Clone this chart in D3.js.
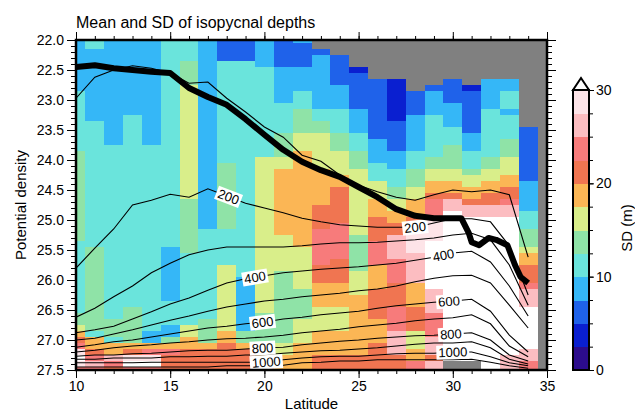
<!DOCTYPE html>
<html>
<head>
<meta charset="utf-8">
<script src="https://cdn.jsdelivr.net/npm/d3@7/dist/d3.min.js"></script>
<style>
  body { margin: 0; background: #fff; }
  svg text { font-family: "Liberation Sans", Arial, Helvetica, sans-serif; fill: #000; }
</style>
</head>
<body>
<svg id="chart" width="635" height="412"></svg>
<script>
// ---- data -------------------------------------------------------------
// Latitude bins (cell centres, degrees N)
const latitudes = [10,11,12,13,14,15,16,17,18,19,20,21,22,23,24,25,26,27,28,29,30,31,32,33,34,35];
// Potential density bins (cell centres)
const densities = [22.0,22.1,22.2,22.3,22.4,22.5,22.6,22.7,22.8,22.9,
                   23.0,23.1,23.2,23.3,23.4,23.5,23.6,23.7,23.8,23.9,
                   24.0,24.1,24.2,24.3,24.4,24.5,24.6,24.7,24.8,24.9,
                   25.0,25.1,25.2,25.3,25.4,25.5,25.6,25.7,25.8,25.9,
                   26.0,26.1,26.2,26.3,26.4,26.5,26.6,26.7,26.8,26.9,
                   27.0,27.1,27.2,27.3,27.4,27.5];
// SD (m) of each class code used in the grid below ('.' = no data)
const sdCodeValues = {"0":1.25,"1":3.75,"2":6.25,"3":8.75,"4":11.25,"5":13.75,"6":16.25,
                      "7":18.75,"8":21.25,"9":23.75,"a":26.25,"b":28.75,"c":31.25,".":null};
// SD of isopycnal depth, one string per latitude, density increasing left to right
const sdByLatitude = [
  "3333333334 4444444445 5555555555 5555444444 4444445567 89bcb9", // 10
  "4433333333 3333444444 4444444444 4444455555 5555555554 7789a9", // 11
  "3333333333 3333333344 4444444444 4444444444 4444444555 477a98", // 12
  "3333333333 3334444444 4444444444 4444444444 4444455555 578bc9", // 13
  "3333333333 3333333344 4444444444 4444444444 4444444443 379bc9", // 14
  "4444444444 4444444444 4444444444 4444433333 3333444433 579888", // 15
  "4444555566 6666666666 6666666555 5555554444 4444444466 778888", // 16
  "3333333333 3333333333 3333333333 3344444444 4444444555 578888", // 17
  "2222444444 4444444444 4555555555 5544444466 6666666667 788888", // 18
  "2222444444 4444444444 4444444444 4444444444 3333333335 578888", // 19
  "3333344444 4444444444 6666666666 6666666666 6666665555 567788", // 20
  "2222233333 3444445555 6677777777 7776666665 5555555555 566777", // 21
  "3222233334 4455556667 7777777777 7777766666 6655555666 677777", // 22
  "..23333333 3344556666 6677777788 8899999988 8777766667 777888", // 23
  "...2222233 3344445556 6667788888 8999999888 8777766667 777888", // 24
  ".....12222 2233334445 5566666666 6665555556 6667777777 777888", // 25
  ".......222 2222222333 3444666777 8888999977 7788888777 788888", // 26
  ".......111 1111222223 3344455667 788aaaa999 988889999a aaa888", // 27
  ".........2 2223333334 4455566777 88bbbbaaaa a777788886 667799", // 28
  "........23 3334444444 5566778999 bbbbcccccc ccaaaa9999 aaa8aa", // 29
  ".......222 2333344455 5566778aac cccccccccc cccccccccc cccc..", // 30
  "........12 2222223334 44566778aa cccccccccc cccccccccc cccc..", // 31
  ".......333 3344444444 55667788aa cccccccccc cccccccccc cccccc", // 32
  ".......334 4434444555 66677889aa cccccccccc cccccccccc cccaaa", // 33
  ".......... .....22222 2222333334 4455567788 89aaaccccc ccaa99", // 34
  ".......... .......... .......... .......... .......... ......"  // 35
];

// Colour classes of the SD scale
const sdBreaks = [2.5,5,7.5,10,12.5,15,17.5,20,22.5,25,27.5,30];
const sdColors = ["#2c0c8c","#0a1fd0","#1f62ea","#35b7f7","#6ae4dc","#8fe3a7","#d9ee8a",
                  "#fbb655","#f07551","#f77b7b","#fcbdc1","#fde4e8","#ffffff"];
const noDataColor = "#808080";
const sdAxisTicks = [0,10,20,30];
const sdMinorTicks = [0,2.5,5,7.5,10,12.5,15,17.5,20,22.5,25,27.5,30];

// Mean depth contours: density of each depth surface along latitude
const contourLats = [10,11,12,13,14,15,16,17,18,19,20,21,22,23,24,25,26,27,28,29,30,31,32,33,34];
const depth100  = [22.97,22.62,22.50,22.43,22.47,22.55,22.72,22.70,22.97,23.20,23.45,23.62,23.92,24.02,24.25,24.42,24.53,24.62,24.67,24.58,24.50,24.53,24.50,24.58,25.62];
const depth200  = [25.80,25.47,25.15,24.75,24.67,24.57,24.62,24.48,24.60,24.72,24.80,24.88,24.97,25.03,25.08,25.10,25.12,25.12,25.12,25.05,24.98,24.98,25.03,25.43,26.25];
const depth300  = [26.62,26.47,26.28,26.10,25.88,25.72,25.58,25.50,25.45,25.45,25.45,25.45,25.43,25.40,25.38,25.38,25.37,25.35,25.33,25.30,25.25,25.22,25.33,25.75,26.42];
const depth400  = [26.88,26.83,26.77,26.65,26.53,26.40,26.30,26.17,26.05,25.98,25.93,25.88,25.85,25.82,25.80,25.78,25.75,25.72,25.67,25.62,25.55,25.52,25.70,26.10,26.60];
const depth500  = [27.00,26.97,26.90,26.83,26.75,26.67,26.60,26.52,26.45,26.40,26.35,26.32,26.28,26.25,26.22,26.18,26.15,26.10,26.03,25.97,25.93,25.92,26.05,26.42,26.80];
const depth600  = [27.12,27.08,27.03,27.00,26.95,26.90,26.85,26.80,26.77,26.73,26.70,26.65,26.62,26.58,26.55,26.52,26.47,26.43,26.40,26.37,26.35,26.32,26.52,26.92,27.20];
const depth700  = [27.20,27.17,27.13,27.10,27.08,27.05,27.03,27.00,26.98,26.97,26.95,26.92,26.88,26.85,26.82,26.78,26.75,26.72,26.68,26.65,26.63,26.58,26.73,27.10,27.28];
const depth800  = [27.27,27.25,27.25,27.23,27.22,27.20,27.18,27.17,27.17,27.15,27.13,27.12,27.08,27.05,27.02,27.00,26.97,26.95,26.93,26.92,26.90,26.88,27.00,27.25,27.35];
const depth900  = [27.32,27.32,27.30,27.30,27.30,27.28,27.28,27.27,27.27,27.25,27.25,27.22,27.20,27.18,27.17,27.15,27.13,27.10,27.07,27.05,27.05,27.03,27.13,27.32,27.40];
const depth1000 = [27.38,27.38,27.38,27.38,27.37,27.37,27.37,27.37,27.37,27.37,27.37,27.33,27.30,27.28,27.27,27.27,27.25,27.23,27.22,27.22,27.20,27.20,27.28,27.38,27.43];
const depth1100 = [27.45,27.45,27.45,27.45,27.45,27.45,27.45,27.45,27.43,27.43,27.43,27.42,27.38,27.37,27.35,27.35,27.33,27.33,27.33,27.33,27.33,27.32,27.37,27.43,27.47];
const depthLevels = [100,200,300,400,500,600,700,800,900,1000,1100];
const depthProfiles = [depth100,depth200,depth300,depth400,depth500,depth600,depth700,depth800,depth900,depth1000,depth1100];
// Where the depth labels sit (latitude along the contour)
const labelDepths = [200,200,400,400,600,600,800,800,1000,1000];
const labelLats   = [18.1,28.0,19.5,29.5,19.9,29.8,19.9,29.9,20.1,30.0];

// Heavy line: winter surface density path
const heavyLat = [10,11,12,13,14,15,16,17,18,19,20,21,22,23,24,25,26,27,28,29,30,30.45,30.85,31.0,31.4,31.9,32.3,32.9,33.3,33.6,34.0];
const heavyDen = [22.45,22.42,22.47,22.50,22.53,22.55,22.80,22.95,23.08,23.32,23.58,23.83,24.03,24.17,24.28,24.45,24.62,24.82,24.93,24.97,24.97,24.97,25.22,25.37,25.42,25.30,25.33,25.42,25.75,25.95,26.05];

const xMajor = [10,15,20,25,30,35];
const yMajor = [22.0,22.5,23.0,23.5,24.0,24.5,25.0,25.5,26.0,26.5,27.0,27.5];

// ---- layout -----------------------------------------------------------
const svg = d3.select("#chart");
const plot = {left: 76, right: 547, top: 40, bottom: 370};
const x = d3.scaleLinear().domain([10, 35]).range([plot.left, plot.right]);
const y = d3.scaleLinear().domain([22, 27.5]).range([plot.top, plot.bottom]);
const color = d3.scaleThreshold().domain(sdBreaks).range(sdColors);

svg.append("defs").append("clipPath").attr("id", "plotClip")
  .append("rect").attr("x", plot.left).attr("y", plot.top)
  .attr("width", plot.right - plot.left).attr("height", plot.bottom - plot.top);

// ---- SD cells ---------------------------------------------------------
const cells = [];
sdByLatitude.forEach((col, i) => {
  const codes = col.replace(/ /g, "");
  densities.forEach((d, j) => {
    cells.push({lat: latitudes[i], den: d, sd: sdCodeValues[codes[j] ?? "."]});
  });
});
const cellW = 1, cellH = 0.1;
svg.append("g").attr("clip-path", "url(#plotClip)")
  .selectAll("rect").data(cells).join("rect")
  .attr("x", d => x(d.lat - cellW / 2))
  .attr("y", d => y(d.den - cellH / 2))
  .attr("width", d => x(d.lat + cellW / 2) - x(d.lat - cellW / 2) + 0.5)
  .attr("height", d => y(d.den + cellH / 2) - y(d.den - cellH / 2) + 0.5)
  .attr("fill", d => d.sd == null ? noDataColor : color(d.sd))
  .attr("shape-rendering", "crispEdges");

// ---- depth contours ---------------------------------------------------
const line = d3.line().x(d => x(d[0])).y(d => y(d[1]));
const cg = svg.append("g").attr("clip-path", "url(#plotClip)");
depthProfiles.forEach(prof => {
  cg.append("path").datum(contourLats.map((l, k) => [l, prof[k]]))
    .attr("d", line).attr("fill", "none").attr("stroke", "#000").attr("stroke-width", 1.1);
});

// labels along contours
labelDepths.forEach((dep, k) => {
  const prof = depthProfiles[depthLevels.indexOf(dep)];
  const f = d3.scaleLinear().domain(contourLats).range(prof);
  const lat = labelLats[k];
  const px = x(lat), py = y(f(lat));
  const dx = x(lat + 0.7) - x(lat - 0.7), dy = y(f(lat + 0.7)) - y(f(lat - 0.7));
  const ang = Math.atan2(dy, dx) * 180 / Math.PI;
  const g = cg.append("g").attr("transform", `translate(${px},${py}) rotate(${ang})`);
  const t = g.append("text").attr("text-anchor", "middle").attr("dy", "0.36em")
    .style("font-size", "13px").text(dep);
  const bb = t.node().getBBox();
  g.insert("rect", "text").attr("x", bb.x - 2).attr("y", bb.y + 0.5)
    .attr("width", bb.width + 4).attr("height", bb.height - 1).attr("fill", "#fff");
});

// heavy line
cg.append("path").datum(heavyLat.map((l, k) => [l, heavyDen[k]]))
  .attr("d", line).attr("fill", "none").attr("stroke", "#000")
  .attr("stroke-width", 6).attr("stroke-linejoin", "round").attr("stroke-linecap", "butt");

// ---- axes -------------------------------------------------------------
function styleAxis(g) {
  g.select(".domain").remove();
  g.selectAll(".tick line").attr("stroke", "#000").attr("stroke-width", 1);
  g.selectAll(".tick text").style("font-size", "14px");
}
svg.append("g").attr("transform", `translate(0,${plot.bottom})`)
  .call(d3.axisBottom(x).tickValues(latitudes).tickSize(4).tickFormat("")).call(styleAxis);
svg.append("g").attr("transform", `translate(0,${plot.bottom})`)
  .call(d3.axisBottom(x).tickValues(xMajor).tickSize(8).tickPadding(3).tickFormat(d3.format("d"))).call(styleAxis);
svg.append("g").attr("transform", `translate(0,${plot.top})`)
  .call(d3.axisTop(x).tickValues(latitudes).tickSize(4).tickFormat("")).call(styleAxis);
svg.append("g").attr("transform", `translate(0,${plot.top})`)
  .call(d3.axisTop(x).tickValues(xMajor).tickSize(8).tickFormat("")).call(styleAxis);
svg.append("g").attr("transform", `translate(${plot.left},0)`)
  .call(d3.axisLeft(y).tickValues(densities).tickSize(5).tickFormat("")).call(styleAxis);
svg.append("g").attr("transform", `translate(${plot.left},0)`)
  .call(d3.axisLeft(y).tickValues(yMajor).tickSize(9).tickPadding(3).tickFormat(d3.format(".1f"))).call(styleAxis);
svg.append("g").attr("transform", `translate(${plot.right},0)`)
  .call(d3.axisRight(y).tickValues(densities).tickSize(5).tickFormat("")).call(styleAxis);
svg.append("g").attr("transform", `translate(${plot.right},0)`)
  .call(d3.axisRight(y).tickValues(yMajor).tickSize(9).tickFormat("")).call(styleAxis);

svg.append("rect").attr("x", plot.left).attr("y", plot.top)
  .attr("width", plot.right - plot.left).attr("height", plot.bottom - plot.top)
  .attr("fill", "none").attr("stroke", "#000").attr("stroke-width", 2.5);

// titles
svg.append("text").attr("x", plot.left).attr("y", 28).style("font-size", "16px")
  .text("Mean and SD of isopycnal depths");
svg.append("text").attr("x", (plot.left + plot.right) / 2).attr("y", 409)
  .attr("text-anchor", "middle").style("font-size", "15px").text("Latitude");
svg.append("text").attr("transform", `translate(26,${(plot.top + plot.bottom) / 2}) rotate(-90)`)
  .attr("text-anchor", "middle").style("font-size", "15px").text("Potential density");

// ---- colour bar -------------------------------------------------------
const cb = {left: 573, width: 16};
const cbY = d3.scaleLinear().domain([0, 30]).range([370, 90]);
const cbClasses = [0, ...sdBreaks];
const cbg = svg.append("g");
cbg.selectAll("rect").data(cbClasses.slice(0, -1)).join("rect")
  .attr("x", cb.left).attr("width", cb.width)
  .attr("y", (d, i) => cbY(cbClasses[i + 1]))
  .attr("height", (d, i) => cbY(d) - cbY(cbClasses[i + 1]) + 0.5)
  .attr("fill", (d, i) => sdColors[i]).attr("shape-rendering", "crispEdges");
cbg.append("path")
  .attr("d", `M${cb.left},${cbY(30)} L${cb.left + cb.width / 2},${cbY(30) - 12} L${cb.left + cb.width},${cbY(30)} Z`)
  .attr("fill", sdColors[12]).attr("stroke", "#000").attr("stroke-width", 2).attr("stroke-linejoin", "miter");
cbg.append("rect").attr("x", cb.left).attr("y", cbY(30)).attr("width", cb.width)
  .attr("height", cbY(0) - cbY(30)).attr("fill", "none").attr("stroke", "#000").attr("stroke-width", 2);
svg.append("g").attr("transform", `translate(${cb.left + cb.width},0)`)
  .call(d3.axisRight(cbY).tickValues(sdMinorTicks).tickSize(4).tickFormat("")).call(styleAxis);
svg.append("g").attr("transform", `translate(${cb.left + cb.width},0)`)
  .call(d3.axisRight(cbY).tickValues(sdAxisTicks).tickSize(5).tickPadding(2).tickFormat(d3.format("d"))).call(styleAxis);
svg.append("text").attr("transform", `translate(632,228) rotate(-90)`)
  .attr("text-anchor", "middle").style("font-size", "15px").text("SD (m)");
</script>
</body>
</html>
